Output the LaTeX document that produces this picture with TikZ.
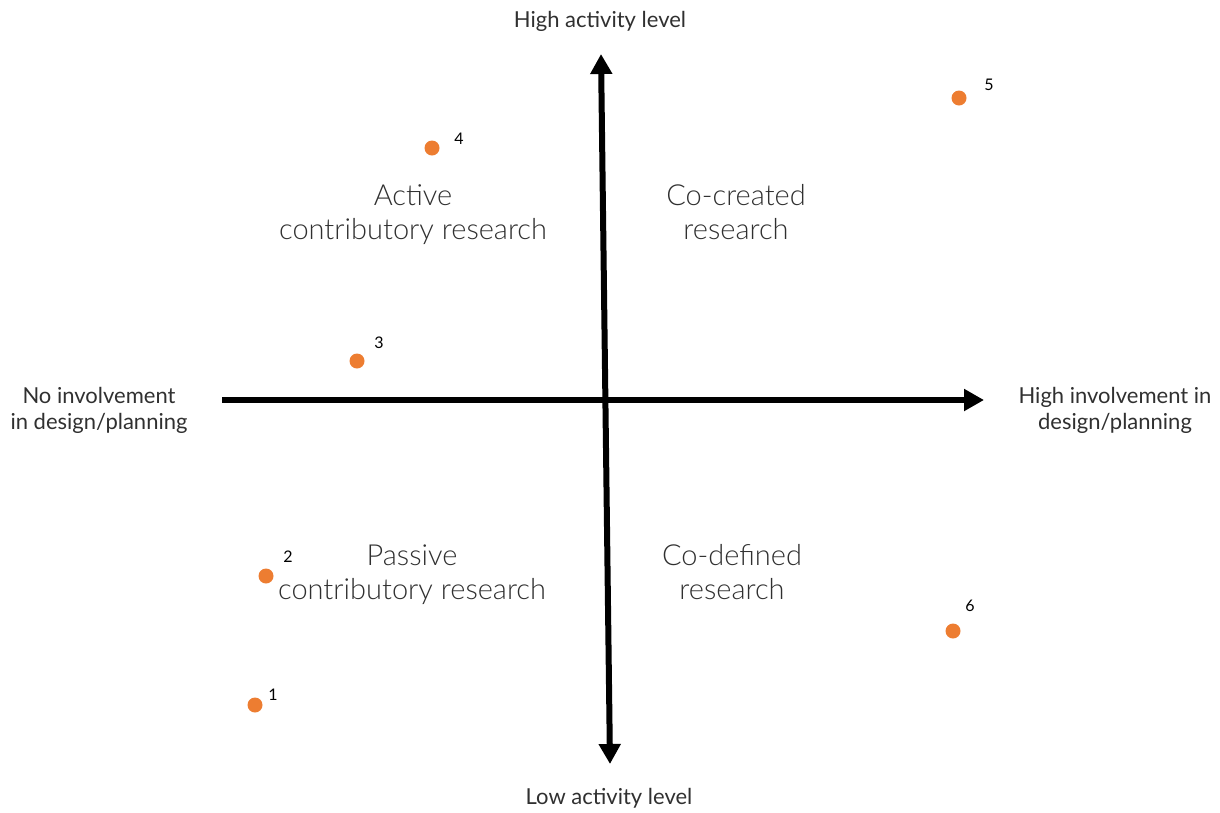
\documentclass[tikz,border=0pt]{standalone}
\usepackage{fontspec}
\setmainfont{Lato}[UprightFont={* Light}]
\newfontfamily\latoreg{Lato}
\usetikzlibrary{arrows.meta}
\definecolor{dotorange}{HTML}{ED7D31}
\definecolor{labelgray}{HTML}{303030}
\begin{document}
\begin{tikzpicture}[x=1pt,y=-1pt,
  tip/.tip={Triangle[length=20pt,width=21pt]},
  axis/.style={line width=6pt},
  quadlabel/.style={text=labelgray,font=\fontsize{29}{34}\selectfont,align=center,inner sep=0pt},
  axislabel/.style={text=labelgray,font=\latoreg\fontsize{22}{26}\selectfont,align=center,inner sep=0pt},
  dot/.style={circle,fill=dotorange,minimum size=15pt,inner sep=0pt},
  num/.style={font=\latoreg\fontsize{16}{16}\selectfont,text=black,inner sep=0pt}]
\useasboundingbox (0,0) rectangle (1220,812);

% axes
\coordinate (xl) at (222,400);
\coordinate (xr) at (984,400);
\coordinate (yt) at (601,54);
\coordinate (yb) at (610,764);
\draw[axis,-tip] (xl) -- (xr);
\draw[axis,tip-tip] (yb) -- (yt);

% axis labels
\node[axislabel] (top) at (600,21) {High activity level};
\node[axislabel] (bottom) at (609,798) {Low activity level};
\node[axislabel] (left) at (99,410) {No involvement\\in design/planning};
\node[axislabel] (right) at (1115,410) {High involvement in\\design/planning};

% quadrant labels
\node[quadlabel] (q1) at (413,215) {Active\\contributory research};
\node[quadlabel] (q2) at (736,212) {Co-created\\research};
\node[quadlabel] (q3) at (412,575) {Passive\\contributory research};
\node[quadlabel] (q4) at (732,572) {Co-defined\\research};

% data points
\node[dot] (p1) at (255,705) {};
\node[dot] (p2) at (266,576) {};
\node[dot] (p3) at (357,361) {};
\node[dot] (p4) at (432,148) {};
\node[dot] (p5) at (959,98) {};
\node[dot] (p6) at (953,631) {};
\node[num] (n1) at (273,695) {1};
\node[num] (n2) at (288,557) {2};
\node[num] (n3) at (379,343) {3};
\node[num] (n4) at (459,139) {4};
\node[num] (n5) at (989,85) {5};
\node[num] (n6) at (970,606) {6};
\end{tikzpicture}
\end{document}
